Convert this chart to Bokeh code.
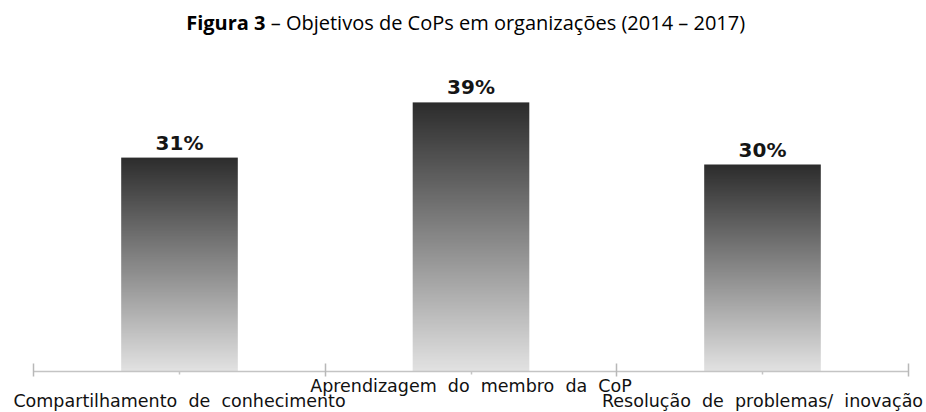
import numpy as np
from bokeh.plotting import figure
from bokeh.models import Range1d, FixedTicker, LinearAxis
from bokeh.core.properties import value
from bokeh.embed import file_html
from bokeh.resources import INLINE

# ---- data ----
categories = ["Compartilhamento de conhecimento",
              "Aprendizagem do membro da CoP",
              "Resolução de problemas/ inovação"]
values = [31, 39, 30]
value_labels = ["31%", "39%", "30%"]
title_bold = "Figura 3"
title_rest = "\u00a0\u2013 Objetivos de CoPs em organizações (2014 \u2013 2017)"

W, H = 926, 412
AXIS_PX = 371        # pixel row of the axis line (value 0)
LEFT_PX = 33.25      # pixel column of category boundary 0
CAT_PX = 291.5       # pixels per category
PX_PER = 6.9         # pixels per percentage point


def px_x(px):
    return (px - LEFT_PX) / CAT_PX


def px_y(py):
    return (AXIS_PX - py) / PX_PER


p = figure(width=W, height=H, output_backend="svg", toolbar_location=None,
           x_range=Range1d(px_x(0), px_x(W)), y_range=Range1d(px_y(H), px_y(0)),
           min_border=0, x_axis_location=None, y_axis_location=None)
p.outline_line_color = None
p.grid.visible = False
p.background_fill_color = "white"
p.border_fill_color = "white"

xs = [i + 0.5 for i in range(len(categories))]

# gradient bars: dark at top, light at bottom
n = 256
f = np.linspace(0, 1, n)  # 0 bottom -> 1 top
g = np.round(226 + (44 - 226) * f).astype(np.uint32)
col = (255 << 24) | (g << 16) | (g << 8) | g
grad = col.reshape(n, 1).view(np.uint32)
imgs = [grad.copy() for _ in values]
p.image_rgba(image=imgs, x=[x - 0.2 for x in xs], y=[0] * len(values),
             dw=[0.4] * len(values), dh=values)

# value labels above bars
p.text(x=xs, y=[v + 15 / PX_PER for v in values], text=value_labels,
       text_font=value("DejaVu Sans"), text_font_style="bold",
       text_font_size="20px", text_color="#151515",
       text_align="center", text_baseline="middle")

# title (bold + normal)
tx = px_x(265)
ty = px_y(22)
p.text(x=[tx], y=[ty], text=[title_bold], text_font=value("Open Sans"),
       text_font_style="bold", text_font_size="20px", text_color="#000000",
       text_align="right", text_baseline="middle")
p.text(x=[tx], y=[ty], text=[title_rest], text_font=value("Open Sans"),
       text_font_size="20px", text_color="#000000",
       text_align="left", text_baseline="middle")

# axis through value 0
ticks = list(range(len(categories) + 1))
ax = LinearAxis(fixed_location=0, bounds=(0, len(categories)),
                ticker=FixedTicker(ticks=ticks, minor_ticks=xs),
                major_label_overrides={t: "" for t in ticks})
ax.axis_line_color = "#c4c4c4"
ax.axis_line_width = 1.5
ax.major_tick_line_color = "#b8b8b8"
ax.major_tick_line_width = 1.5
ax.major_tick_in = 8
ax.major_tick_out = 5
ax.minor_tick_line_color = "#c4c4c4"
ax.minor_tick_line_width = 1.5
ax.minor_tick_in = 0
ax.minor_tick_out = 3
p.add_layout(ax, "below")

# staggered category labels below the axis
rows_px = [400, 385, 400]
labels = [c.replace(" ", "\u00a0 ") for c in categories]
p.text(x=xs, y=[px_y(r) for r in rows_px], text=labels,
       text_font=value("DejaVu Sans"), text_font_size="17.5px",
       text_color="#111111", text_align="center", text_baseline="middle")

open("out.html", "w").write(file_html(p, INLINE))
